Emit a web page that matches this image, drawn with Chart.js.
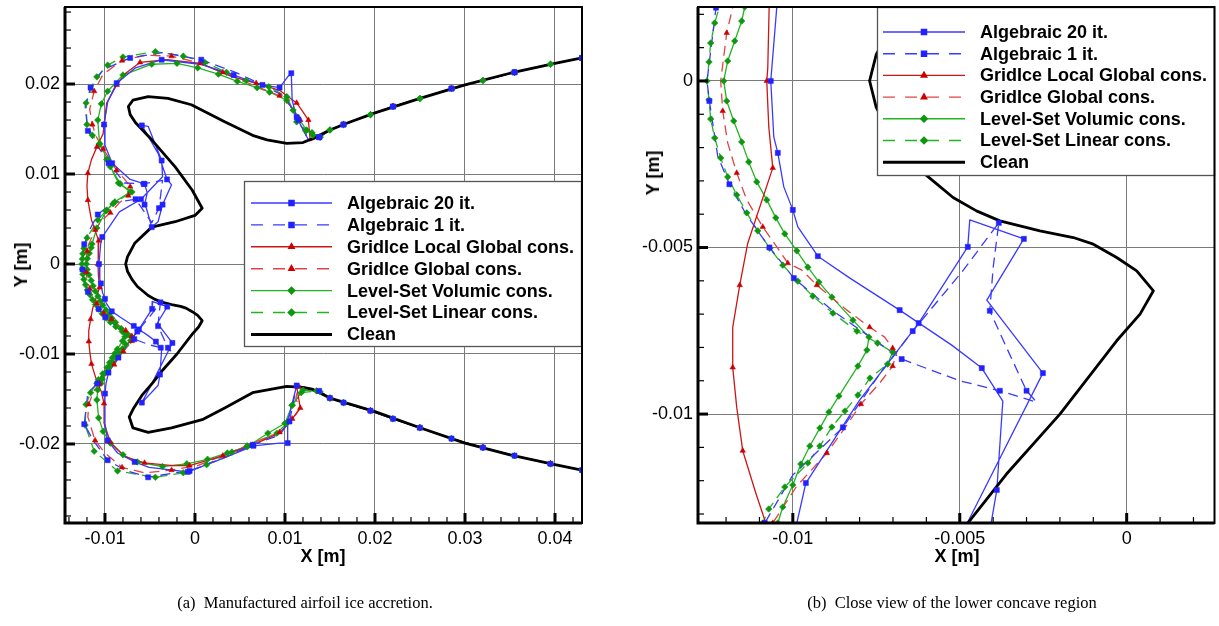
<!DOCTYPE html>
<html>
<head>
<meta charset="utf-8">
<script src="https://cdn.jsdelivr.net/npm/chart.js@4.4.0/dist/chart.umd.min.js"></script>
<style>
  body { margin: 0; background: #fff; width: 1219px; height: 626px; position: relative; overflow: hidden; font-family: "Liberation Sans", Arial, sans-serif; }
  canvas { position: absolute; top: 0; }
  #chartA { left: 0; }
  #chartB { left: 600px; }
  .axt { position: absolute; font-weight: bold; font-size: 18px; color: #000; white-space: nowrap; line-height: 20px; transform: translate(-50%, -50%); }
  .axt.rot { transform: translate(-50%, -50%) rotate(-90deg); }
  .cap { position: absolute; top: 593px; font-family: "Liberation Serif", "Times New Roman", serif; font-size: 16.5px; white-space: nowrap; transform: translateX(-50%); }
</style>
</head>
<body>
<canvas id="chartA" width="600" height="626"></canvas>
<canvas id="chartB" width="619" height="626"></canvas>
<div class="axt" style="left:323px;top:556px">X [m]</div>
<div class="axt" style="left:957px;top:556px">X [m]</div>
<div class="axt rot" style="left:21px;top:265px">Y [m]</div>
<div class="axt rot" style="left:653px;top:173px">Y [m]</div>
<div class="cap" style="left:305px">(a)&nbsp; Manufactured airfoil ice accretion.</div>
<div class="cap" style="left:952px">(b)&nbsp; Close view of the lower concave region</div>
<script>
// contours, [x, y] in metres, going round from upper surface to lower surface
const seriesNames = ['Algebraic 20 it.', 'Algebraic 1 it.', 'GridIce Local Global cons.', 'GridIce Global cons.',
  'Level-Set Volumic cons.', 'Level-Set Linear cons.', 'Clean'];

const farUpper = [[0.043,0.0229],[0.0395,0.0222],[0.0355,0.0213],[0.032,0.0204],[0.0285,0.0195],[0.025,0.0184],
  [0.022,0.0175],[0.0195,0.0166],[0.0165,0.0155],[0.015,0.0149]];
const farLower = [[0.015,-0.0149],[0.0165,-0.0154],[0.0195,-0.0163],[0.022,-0.0172],[0.025,-0.0182],[0.0285,-0.0194],
  [0.032,-0.0204],[0.0355,-0.0213],[0.0395,-0.0222],[0.043,-0.0229]];

const clean = [[0.043,0.0229],[0.04,0.0223],[0.035,0.0212],[0.03,0.0199],[0.025,0.0184],[0.02,0.0168],[0.017,0.0157],
  [0.015,0.0149],[0.013,0.0139],[0.012,0.0135],[0.0102,0.0134],[0.008,0.0138],[0.0064,0.0143],[0.0033,0.0158],
  [-0.0004,0.0177],[-0.003,0.0184],[-0.0052,0.0186],[-0.0069,0.0182],[-0.0074,0.0175],[-0.0072,0.0166],[-0.0066,0.0157],
  [-0.0048,0.0138],[-0.0022,0.0108],[-0.0003,0.0082],[0.0008,0.0062],[0.0,0.0054],[-0.0022,0.0047],[-0.0048,0.0041],
  [-0.0067,0.0023],[-0.0075,0.0008],[-0.0077,0],[-0.0075,-0.0008],[-0.007,-0.0017],[-0.0064,-0.0025],[-0.0058,-0.003],
  [-0.0052,-0.0035],[-0.0045,-0.0039],[-0.0038,-0.0042],[-0.0026,-0.0045],[-0.0016,-0.0047],[-0.001,-0.0049],
  [-0.0003,-0.0053],[0.0003,-0.0057],[0.0008,-0.0063],[0.0004,-0.007],[-0.0003,-0.0078],[-0.002,-0.01],[-0.0036,-0.0118],
  [-0.0047,-0.0132],[-0.0059,-0.0146],[-0.0068,-0.016],[-0.0073,-0.017],[-0.0069,-0.0182],[-0.0052,-0.0187],
  [-0.0026,-0.0182],[0.0008,-0.0173],[0.0033,-0.016],[0.0064,-0.0143],[0.0102,-0.0136],[0.012,-0.0137],[0.013,-0.0139],
  [0.015,-0.0149],[0.02,-0.0164],[0.025,-0.0182],[0.03,-0.0199],[0.035,-0.0212],[0.04,-0.0223],[0.043,-0.0229]];

const alg20Near = [[0.0138,0.0141],[0.0126,0.0138],[0.0113,0.0163],[0.0108,0.0182],[0.0107,0.0212],[0.0103,0.0208],
  [0.0094,0.0196],[0.0074,0.0199],[0.0043,0.021],[0.0006,0.0222],[-0.0037,0.0227],[-0.0066,0.0218],[-0.0087,0.0201],
  [-0.0097,0.018],[-0.0101,0.0155],[-0.01,0.0132],[-0.0092,0.0112],[-0.0072,0.0094],[-0.0056,0.0089],[-0.0053,0.0079],
  [-0.0056,0.0066],[-0.0054,0.0062],[-0.0048,0.0041],[-0.0041,0.0047],[-0.0036,0.0066],[-0.0026,0.0088],[-0.0031,0.0094],
  [-0.0041,0.0123],[-0.0059,0.0154],[-0.0052,0.0153],[-0.0037,0.0115],[-0.0036,0.0097],[-0.006,0.0072],[-0.0084,0.0058],
  [-0.0103,0.003],[-0.01048,0.00222],[-0.01066,0],[-0.01057,-0.00168],[-0.01045,-0.00216],[-0.01027,-0.00318],
  [-0.01,-0.00387],[-0.00985,-0.00438],[-0.00925,-0.00526],[-0.00829,-0.00592],[-0.0068,-0.00688],[-0.00524,-0.00793],
  [-0.00434,-0.00862],[-0.00371,-0.00961],[-0.00389,-0.01228],[-0.0041,-0.0135],[-0.0059,-0.0154],[-0.00476,-0.01324],
  [-0.00251,-0.00877],[-0.00419,-0.00658],[-0.00308,-0.00474],[-0.0047,-0.00417],[-0.00476,-0.00498],[-0.00515,-0.00559],
  [-0.00623,-0.00727],[-0.008,-0.00958],[-0.00961,-0.01207],[-0.00988,-0.01327],[-0.01,-0.0144],[-0.01,-0.0177],
  [-0.0097,-0.0196],[-0.0086,-0.021],[-0.0067,-0.022],[-0.0051,-0.0226],[-0.0008,-0.0231],[0.0031,-0.0216],
  [0.0065,-0.0202],[0.0094,-0.0199],[0.0103,-0.0199],[0.0103,-0.0175],[0.0113,-0.0135],[0.0138,-0.0141]];

const alg1Near = [[0.0138,0.0141],[0.0124,0.0142],[0.0115,0.016],[0.01,0.0186],[0.0075,0.0199],[0.0045,0.0213],
  [0.0007,0.0227],[-0.0036,0.0235],[-0.0072,0.0229],[-0.0102,0.0216],[-0.0116,0.0196],[-0.0122,0.0175],[-0.0119,0.0148],
  [-0.0108,0.0131],[-0.0096,0.0112],[-0.0078,0.009],[-0.0057,0.0089],[-0.0036,0.0093],[-0.004,0.0062],[-0.0048,0.0046],
  [-0.0066,0.0072],[-0.0092,0.0068],[-0.0108,0.0055],[-0.0116,0.004],[-0.0123,0.0022],[-0.01257,0],[-0.0125,-0.0006],
  [-0.01225,-0.00225],[-0.0119,-0.0031],[-0.0114,-0.004],[-0.0107,-0.005],[-0.0103,-0.0055],[-0.00997,-0.00592],
  [-0.0088,-0.0069],[-0.00674,-0.00835],[-0.005,-0.009],[-0.0038,-0.0093],[-0.0027,-0.00964],[-0.003,-0.0093],
  [-0.0036,-0.008],[-0.0041,-0.0069],[-0.004,-0.0056],[-0.00383,-0.00426],[-0.00494,-0.00574],[-0.00641,-0.00751],
  [-0.0074,-0.0088],[-0.0085,-0.0104],[-0.01,-0.01183],[-0.01084,-0.01327],[-0.0119,-0.0143],[-0.0123,-0.0178],
  [-0.0113,-0.0196],[-0.0097,-0.0218],[-0.0078,-0.0229],[-0.0052,-0.0237],[-0.0022,-0.0232],[-0.0006,-0.023],
  [0.0031,-0.0216],[0.0064,-0.0201],[0.0094,-0.019],[0.0105,-0.0175],[0.0113,-0.0135],[0.0138,-0.0141]];

const gridLocalNear = [[0.0138,0.0141],[0.0128,0.0137],[0.0126,0.016],[0.012,0.0169],[0.0113,0.0179],[0.0094,0.0193],
  [0.0068,0.0201],[0.0042,0.0208],[0.0006,0.0223],[-0.0031,0.0227],[-0.0061,0.0224],[-0.0077,0.0212],[-0.0087,0.0199],
  [-0.0098,0.0179],[-0.0101,0.0155],[-0.0102,0.0145],[-0.0109,0.013],[-0.0115,0.0116],[-0.0119,0.0101],[-0.012,0.0087],
  [-0.0119,0.0071],[-0.0115,0.0049],[-0.0107,0.0026],[-0.01075,0.0004],[-0.01078,0],[-0.01072,-0.00138],[-0.0106,-0.00261],
  [-0.01135,-0.00487],[-0.01159,-0.00613],[-0.0118,-0.0074],[-0.0118,-0.0086],[-0.01168,-0.0098],[-0.0115,-0.0111],
  [-0.0111,-0.0124],[-0.0108,-0.0133],[-0.0104,-0.0142],[-0.0101,-0.0155],[-0.0101,-0.0177],[-0.0094,-0.0198],
  [-0.0078,-0.0214],[-0.0056,-0.0221],[-0.0025,-0.0224],[-0.0006,-0.0224],[0.0028,-0.0214],[0.0064,-0.0201],
  [0.0094,-0.0188],[0.0108,-0.0172],[0.0117,-0.016],[0.0113,-0.0136],[0.0138,-0.0141]];

const gridGlobalNear = [[0.0138,0.0141],[0.0124,0.0142],[0.0117,0.016],[0.0107,0.0175],[0.0094,0.0187],[0.0064,0.0199],
  [0.0031,0.0213],[0.0003,0.0224],[-0.0026,0.0231],[-0.0056,0.0232],[-0.0081,0.0226],[-0.0102,0.0211],[-0.0112,0.0192],
  [-0.0117,0.0172],[-0.0114,0.0155],[-0.011,0.0142],[-0.0102,0.0128],[-0.0093,0.0114],[-0.0087,0.0104],[-0.0078,0.0094],
  [-0.0072,0.0086],[-0.007,0.008],[-0.0074,0.0076],[-0.0084,0.0068],[-0.0094,0.0057],[-0.0104,0.0048],[-0.0111,0.0038],
  [-0.0118,0.0022],[-0.01198,0.00144],[-0.01216,0],[-0.0121,-0.0009],[-0.01195,-0.00186],[-0.01168,-0.00276],
  [-0.01138,-0.00357],[-0.0109,-0.00438],[-0.01048,-0.00498],[-0.01015,-0.00547],[-0.00973,-0.00568],[-0.00928,-0.00613],
  [-0.00838,-0.00688],[-0.0077,-0.00739],[-0.00725,-0.00769],[-0.00701,-0.00802],[-0.00689,-0.00817],[-0.00701,-0.00856],
  [-0.0074,-0.00907],[-0.00796,-0.0097],[-0.00838,-0.01033],[-0.00898,-0.01117],[-0.00988,-0.01216],[-0.0106,-0.01327],
  [-0.0113,-0.0142],[-0.0118,-0.0156],[-0.0119,-0.017],[-0.0111,-0.0196],[-0.01,-0.021],[-0.0081,-0.0226],
  [-0.0056,-0.0232],[-0.0026,-0.0229],[0.0003,-0.0224],[0.0031,-0.0213],[0.0064,-0.0199],[0.0094,-0.0187],
  [0.0107,-0.0175],[0.0117,-0.016],[0.0112,-0.015],[0.0115,-0.0136],[0.0138,-0.0141]];

const lsVolNear = [[0.0139,0.0141],[0.013,0.0146],[0.0124,0.0149],[0.0114,0.0163],[0.0102,0.0182],[0.0083,0.0191],
  [0.0069,0.0196],[0.0047,0.0203],[0.0026,0.0211],[0.0003,0.0218],[-0.002,0.0223],[-0.0048,0.0222],[-0.008,0.021],
  [-0.0097,0.0192],[-0.0104,0.0178],[-0.0108,0.016],[-0.0106,0.0134],[-0.0097,0.0116],[-0.0094,0.0108],[-0.0083,0.0089],
  [-0.0072,0.008],[-0.0089,0.0069],[-0.0098,0.006],[-0.0109,0.004],[-0.01144,0.00222],[-0.01153,0.0018],[-0.01174,0.0012],
  [-0.01195,0.0006],[-0.01207,0],[-0.01198,-0.0006],[-0.01177,-0.0012],[-0.01153,-0.00183],[-0.01132,-0.00243],
  [-0.01108,-0.00303],[-0.01078,-0.00357],[-0.01051,-0.00411],[-0.01024,-0.00459],[-0.00988,-0.0051],[-0.00955,-0.00559],
  [-0.00922,-0.00604],[-0.00883,-0.00649],[-0.0082,-0.00718],[-0.00772,-0.00769],[-0.00778,-0.00808],[-0.00805,-0.00856],
  [-0.00862,-0.00946],[-0.00892,-0.00994],[-0.00919,-0.01042],[-0.00949,-0.01096],[-0.00976,-0.0115],[-0.01,-0.01213],
  [-0.0103,-0.01279],[-0.01045,-0.01327],[-0.0108,-0.014],[-0.0109,-0.0151],[-0.0107,-0.0171],[-0.0102,-0.0186],
  [-0.0094,-0.0199],[-0.008,-0.0212],[-0.0064,-0.022],[-0.0036,-0.0225],[-0.0009,-0.0222],[0.0014,-0.0217],
  [0.0036,-0.021],[0.0058,-0.0203],[0.0081,-0.0188],[0.01,-0.0177],[0.0108,-0.0157],[0.012,-0.014],[0.0139,-0.0142]];

const lsLinNear = [[0.0139,0.0141],[0.0131,0.0143],[0.0123,0.0148],[0.0113,0.0158],[0.0109,0.0171],[0.0102,0.0186],
  [0.0082,0.0197],[0.0057,0.0204],[0.0035,0.0213],[0.0011,0.0224],[-0.0013,0.0231],[-0.0044,0.0236],[-0.008,0.023],
  [-0.0097,0.0221],[-0.0109,0.0208],[-0.0121,0.0179],[-0.012,0.0155],[-0.0114,0.0143],[-0.0106,0.0133],[-0.0098,0.0116],
  [-0.0085,0.009],[-0.007,0.008],[-0.0091,0.0067],[-0.0099,0.0059],[-0.0108,0.0049],[-0.012,0.0029],[-0.01234,0.00174],
  [-0.01246,0.00114],[-0.01251,0.00057],[-0.01257,0],[-0.01251,-0.00057],[-0.01246,-0.00114],[-0.01234,-0.00171],
  [-0.01216,-0.00231],[-0.01195,-0.00288],[-0.01168,-0.00342],[-0.01138,-0.00396],[-0.01105,-0.0045],[-0.01069,-0.00502],
  [-0.0103,-0.00553],[-0.00985,-0.00601],[-0.0094,-0.00646],[-0.0088,-0.00697],[-0.00808,-0.00751],[-0.00746,-0.00787],
  [-0.00701,-0.00814],[-0.00716,-0.0085],[-0.00769,-0.00892],[-0.00805,-0.00943],[-0.00844,-0.00991],[-0.00883,-0.01039],
  [-0.00919,-0.01096],[-0.00955,-0.01147],[-0.01024,-0.01219],[-0.01072,-0.01285],[-0.0109,-0.01327],[-0.0116,-0.0143],
  [-0.0121,-0.0156],[-0.0122,-0.0179],[-0.0112,-0.0208],[-0.0086,-0.023],[-0.0044,-0.0237],[-0.0013,-0.0232],
  [0.0013,-0.0223],[0.0041,-0.0209],[0.0058,-0.0202],[0.0091,-0.0188],[0.0102,-0.0177],[0.0108,-0.0157],
  [0.0118,-0.0143],[0.0135,-0.0141]];

const full = near => farUpper.concat(near, farLower);
const pts = arr => arr.map(p => ({ x: p[0], y: p[1] }));

const styles = [
  { data: full(alg20Near), color: '#3a3aff', dash: [], marker: 'rect', mcolor: '#2222ff', size: 3.6, skip: 2 },
  { data: full(alg1Near), color: '#3a3aff', dash: [10, 6], marker: 'rect', mcolor: '#2222ff', size: 3.6, skip: 2 },
  { data: full(gridLocalNear), color: '#cc1515', dash: [], marker: 'triangle', mcolor: '#cc0000', size: 3.2, skip: 2 },
  { data: full(gridGlobalNear), color: '#de4444', dash: [10, 6], marker: 'triangle', mcolor: '#cc0000', size: 3.2, skip: 2 },
  { data: full(lsVolNear), color: '#22b522', dash: [], marker: 'rectRot', mcolor: '#0f960f', size: 3.3, skip: 1 },
  { data: full(lsLinNear), color: '#22b522', dash: [10, 6], marker: 'rectRot', mcolor: '#0f960f', size: 3.3, skip: 1 }
];

const fmt = v => String(Number(v.toFixed(4)));

const decor = {
  id: 'decor',
  afterDraw(chart, args, o) {
    const { ctx, chartArea: a, scales: { x, y } } = chart;
    ctx.save();
    // legend box
    const L = o.legend;
    ctx.fillStyle = '#fff';
    ctx.fillRect(L.x, L.y, L.w, L.h);
    ctx.strokeStyle = '#555';
    ctx.lineWidth = 1.3;
    ctx.strokeRect(L.x + 0.5, L.y + 0.5, L.w - 1, L.h - 1);
    ctx.font = 'bold 18px "Liberation Sans", Arial, sans-serif';
    ctx.textBaseline = 'middle';
    seriesNames.forEach((name, i) => {
      const yy = L.row0 + i * L.dy;
      const s = styles[i];
      ctx.setLineDash(s ? (s.dash.length ? [12, 10] : []) : []);
      ctx.strokeStyle = s ? s.color : '#000';
      ctx.lineWidth = s ? 1.4 : 3;
      ctx.beginPath();
      ctx.moveTo(L.x0, yy);
      ctx.lineTo(L.x1, yy);
      ctx.stroke();
      ctx.setLineDash([]);
      if (s) {
        ctx.fillStyle = s.mcolor;
        ctx.strokeStyle = s.mcolor;
        Chart.helpers.drawPoint(ctx, { pointStyle: s.marker, rotation: 0, radius: s.size, borderWidth: 0.5 }, (L.x0 + L.x1) / 2, yy);
      }
      ctx.fillStyle = '#000';
      ctx.fillText(name, L.tx, yy + 1);
    });
    // inward ticks on left and bottom
    ctx.strokeStyle = '#000';
    const ticks = (scale, minor, major, horiz) => {
      for (let k = Math.ceil(scale.min / minor); k * minor <= scale.max + 1e-12; k++) {
        const v = k * minor;
        const isMajor = Math.abs(v / major - Math.round(v / major)) < 1e-6;
        const p = scale.getPixelForValue(v);
        const len = isMajor ? 10 : 6;
        ctx.lineWidth = isMajor ? 3 : 1.2;
        ctx.beginPath();
        if (horiz) { ctx.moveTo(p, a.bottom); ctx.lineTo(p, a.bottom - len); }
        else { ctx.moveTo(a.left, p); ctx.lineTo(a.left + len, p); }
        ctx.stroke();
      }
    };
    ticks(x, o.minorX, o.majorX, true);
    ticks(y, o.minorY, o.majorY, false);
    // frame
    ctx.lineWidth = 2;
    ctx.strokeRect(a.left, a.top, a.width, a.height);
    ctx.lineWidth = 3;
    ctx.beginPath();
    ctx.moveTo(a.left, a.top);
    ctx.lineTo(a.left, a.bottom);
    ctx.lineTo(a.right, a.bottom);
    ctx.stroke();
    ctx.restore();
  }
};

function build(id, cfg) {
  const datasets = [];
  styles.forEach(s => datasets.push({
    data: pts(s.data), showLine: true, borderColor: s.color, borderWidth: 1.3, borderDash: s.dash,
    borderJoinStyle: 'round', pointRadius: 0, order: 2
  }));
  datasets.push({ data: pts(clean), showLine: true, borderColor: '#000', borderWidth: 2.8, borderJoinStyle: 'round', pointRadius: 0, order: 1 });
  styles.forEach(s => datasets.push({
    data: pts(s.data), showLine: false, pointStyle: s.marker, backgroundColor: s.mcolor, borderColor: s.mcolor,
    pointBorderWidth: 0.5, pointRadius: c => (c.dataIndex % s.skip === 0 ? s.size : 0), order: 0
  }));
  const axis = (min, max, step, fit) => ({
    type: 'linear', min: min, max: max,
    afterFit: s => { fit(s); s.paddingTop = 0; s.paddingBottom = 0; s.paddingLeft = 0; s.paddingRight = 0; },
    grid: { color: '#7a7a7a', lineWidth: 1, drawTicks: false },
    border: { display: false },
    ticks: { stepSize: step, includeBounds: false, padding: 5, color: '#000', autoSkip: false, maxRotation: 0,
      font: { size: 18, family: '"Liberation Sans", Arial, sans-serif' }, callback: fmt }
  });
  new Chart(document.getElementById(id), {
    type: 'scatter',
    data: { datasets: datasets },
    options: {
      responsive: false, animation: false, events: [], devicePixelRatio: 1,
      layout: { padding: { left: 0, top: 7, right: cfg.padRight, bottom: 0 } },
      plugins: { legend: { display: false }, tooltip: { enabled: false }, decor: cfg.decor },
      scales: {
        x: axis(cfg.x[0], cfg.x[1], cfg.major, s => { s.height = 103; }),
        y: axis(cfg.y[0], cfg.y[1], cfg.major, s => { s.width = cfg.yw; })
      }
    },
    plugins: [decor]
  });
}

build('chartA', {
  x: [-0.01444, 0.043], y: [-0.02878, 0.02856], major: 0.01, yw: 65, padRight: 18,
  decor: { minorX: 0.002, majorX: 0.01, minorY: 0.002, majorY: 0.01,
    legend: { x: 244, y: 181, w: 338, h: 166, row0: 203, dy: 21.9, x0: 251, x1: 332, tx: 347 } }
});
build('chartB', {
  x: [-0.01284, 0.00263], y: [-0.01327, 0.00222], major: 0.005, yw: 98, padRight: 4,
  decor: { minorX: 0.001, majorX: 0.005, minorY: 0.001, majorY: 0.005,
    legend: { x: 277, y: 7, w: 338, h: 169, row0: 32, dy: 21.7, x0: 283, x1: 365, tx: 380 } }
});
</script>
</body>
</html>
